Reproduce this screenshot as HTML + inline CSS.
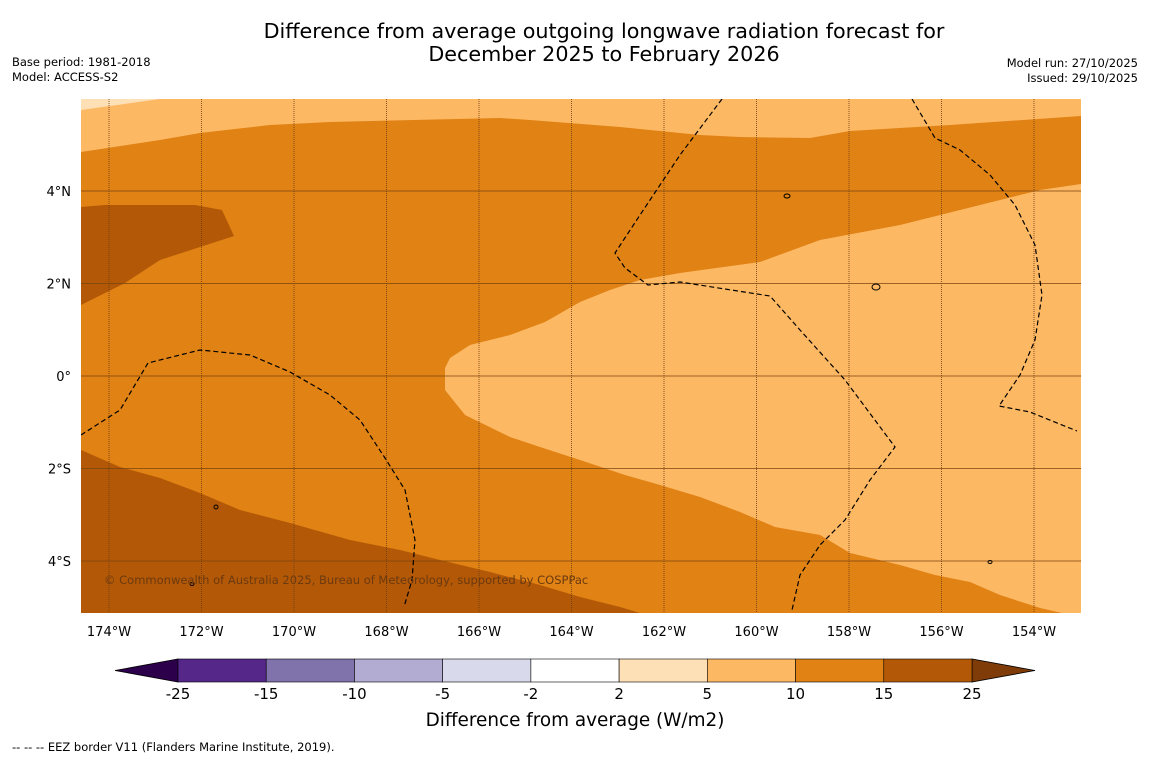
<!DOCTYPE html>
<html><head><meta charset="utf-8">
<style>
body{margin:0;background:#fff;width:1150px;height:758px;overflow:hidden;font-family:"Liberation Sans","DejaVu Sans",sans-serif;}
svg text{font-family:"DejaVu Sans","Liberation Sans",sans-serif;}
</style></head>
<body>
<svg id="chart" width="1150" height="758">
<text x="604" y="38" text-anchor="middle" font-size="20.7">Difference from average outgoing longwave radiation forecast for</text>
<text x="604" y="61" text-anchor="middle" font-size="20.7">December 2025 to February 2026</text>
<text x="12" y="66" font-size="11.5">Base period: 1981-2018</text>
<text x="12" y="81" font-size="11.5">Model: ACCESS-S2</text>
<text x="1138" y="67" font-size="11.5" text-anchor="end">Model run: 27/10/2025</text>
<text x="1138" y="82" font-size="11.5" text-anchor="end">Issued: 29/10/2025</text>
<defs><clipPath id="mapclip"><rect x="81" y="99" width="1000" height="514"/></clipPath></defs>
<g id="map" clip-path="url(#mapclip)"></g>
<g id="axes"></g>
<g id="cbar"></g>
<text x="575" y="726" text-anchor="middle" font-size="18.4">Difference from average (W/m2)</text>
<text x="12" y="751" font-size="11.5">--  --  -- EEZ border V11 (Flanders Marine Institute, 2019).</text>
</svg>
<script>
const NS="http://www.w3.org/2000/svg";
const X0=109, LON0=-174, Y0=376, PX=46.25;
function xs(lon){return X0+(lon-LON0)*PX;}
function ys(lat){return Y0-lat*PX;}
const lonTicks=[-174,-172,-170,-168,-166,-164,-162,-160,-158,-156,-154];
const latTicks=[4,2,0,-2,-4];
const lonLabels=["174°W","172°W","170°W","168°W","166°W","164°W","162°W","160°W","158°W","156°W","154°W"];
const latLabels=["4°N","2°N","0°","2°S","4°S"];
const cbLevels=["-25","-15","-10","-5","-2","2","5","10","15","25"];
const cbColors=["#542788","#8073ac","#b2abd2","#d8daeb","#ffffff","#fee0b6","#fdb863","#e08214","#b35806"];
function P(pts){return pts.map(p=>[LON0+(p[0]-X0)/PX,(Y0-p[1])/PX]);}
const regionMid=P([[81,99],[1081,99],[1081,613],[81,613]]);
const regionLightTop=P([[81,99],[1081,99],[1081,116],[950,125],[850,131],[810,138],[740,137],[700,135],[620,127],[530,120],[500,118],[330,122],[270,125],[200,133],[160,140],[81,152]]);
const regionLightEast=P([[1081,184],[1040,190],[980,205],[900,225],[820,240],[760,262],[680,273],[640,280],[610,290],[580,302],[545,322],[510,335],[470,345],[450,358],[445,368],[445,390],[465,415],[510,437],[540,447],[580,460],[625,475],[660,485],[700,497],[740,512],[775,527],[820,535],[850,553],[900,565],[935,575],[970,582],[1000,595],[1040,608],[1062,613],[1081,613]]);
const regionLightest=P([[81,99],[160,99],[81,110]]);
const regionDarkNW=P([[81,207],[105,205],[195,205],[222,210],[234,236],[200,247],[160,260],[125,283],[81,305]]);
const regionDarkS=P([[81,450],[120,467],[160,478],[200,493],[240,510],[290,523],[350,540],[400,550],[440,560],[490,572],[540,585],[580,597],[620,607],[640,613],[81,613]]);
const eez1=P([[81,435],[120,410],[148,363],[200,350],[250,355],[290,372],[330,395],[360,420],[385,458],[405,490],[415,540],[412,580],[404,607]]);
const eez2=P([[722,99],[680,155],[640,215],[615,253],[625,268],[648,285],[680,282],[770,296],[800,330],[845,380],[895,447],[870,480],[845,520],[820,545],[800,575],[792,610]]);
const eez3=P([[912,99],[935,138],[960,150],[990,175],[1015,205],[1035,245],[1042,295],[1035,340],[1020,375],[999,406],[1030,412],[1077,431]]);
function pts(a){return a.map(p=>xs(p[0]).toFixed(1)+","+ys(p[1]).toFixed(1)).join(" ");}
const map=document.getElementById("map");
function poly(a,fill,name){const e=document.createElementNS(NS,"polygon");e.setAttribute("points",pts(a));e.setAttribute("fill",fill);


map.appendChild(e);}
poly(regionMid,"#e08214","region-10-15");
poly(regionLightTop,"#fdb863","region-5-10-north");
poly(regionLightEast,"#fdb863","region-5-10-east");
poly(regionLightest,"#fee0b6","region-2-5");
poly(regionDarkNW,"#b35806","region-15-25-northwest");
poly(regionDarkS,"#b35806","region-15-25-south");
lonTicks.forEach((l,i)=>{const e=document.createElementNS(NS,"line");e.setAttribute("x1",xs(l));e.setAttribute("x2",xs(l));e.setAttribute("y1",99);e.setAttribute("y2",613);e.setAttribute("stroke","#6b3a10");e.setAttribute("stroke-width","0.8");e.setAttribute("stroke-dasharray","1,1");


map.appendChild(e);});
latTicks.forEach(l=>{const e=document.createElementNS(NS,"line");e.setAttribute("x1",81);e.setAttribute("x2",1081);e.setAttribute("y1",ys(l));e.setAttribute("y2",ys(l));e.setAttribute("stroke","#7a4510");e.setAttribute("stroke-width","0.7");


map.appendChild(e);});
[eez1,eez2,eez3].forEach(a=>{const e=document.createElementNS(NS,"polyline");e.setAttribute("points",pts(a));e.setAttribute("fill","none");e.setAttribute("stroke","#000");e.setAttribute("stroke-width","1.2");e.setAttribute("stroke-dasharray","5,3");


map.appendChild(e);});
[[787,196,3,2],[876,287,4,3],[216,507,2,2],[192,584,2,1.5],[990,562,2,1.5]].forEach(d=>{const e=document.createElementNS(NS,"ellipse");e.setAttribute("cx",d[0]);e.setAttribute("cy",d[1]);e.setAttribute("rx",d[2]);e.setAttribute("ry",d[3]);e.setAttribute("fill","none");e.setAttribute("stroke","#000");e.setAttribute("stroke-width","1");


map.appendChild(e);});
const cp=document.createElementNS(NS,"text");cp.setAttribute("x",104);cp.setAttribute("y",584);cp.setAttribute("font-size","11.5");cp.setAttribute("fill","#6b3a10");cp.textContent="© Commonwealth of Australia 2025, Bureau of Meteorology, supported by COSPPac";


map.appendChild(cp);
const ax=document.getElementById("axes");
lonTicks.forEach((l,i)=>{const t=document.createElementNS(NS,"text");t.setAttribute("x",xs(l));t.setAttribute("y",636);t.setAttribute("text-anchor","middle");t.setAttribute("font-size","13");t.textContent=lonLabels[i];


ax.appendChild(t);});
latTicks.forEach((l,i)=>{const t=document.createElementNS(NS,"text");t.setAttribute("x",71);t.setAttribute("y",ys(l)+5);t.setAttribute("text-anchor","end");t.setAttribute("font-size","13");t.textContent=latLabels[i];


ax.appendChild(t);});
const cb=document.getElementById("cbar");
const cx0=178,cx1=972,cy=659,ch=23,cw=(cx1-cx0)/cbColors.length;
const lt=document.createElementNS(NS,"polygon");lt.setAttribute("points",`115,${cy+ch/2} ${cx0},${cy} ${cx0},${cy+ch}`);lt.setAttribute("fill","#2d004b");lt.setAttribute("stroke","#000");lt.setAttribute("stroke-width","0.8");


cb.appendChild(lt);
const rt=document.createElementNS(NS,"polygon");rt.setAttribute("points",`1035,${cy+ch/2} ${cx1},${cy} ${cx1},${cy+ch}`);rt.setAttribute("fill","#7f3b08");rt.setAttribute("stroke","#000");rt.setAttribute("stroke-width","0.8");


cb.appendChild(rt);
cbColors.forEach((c,i)=>{const r=document.createElementNS(NS,"rect");r.setAttribute("x",cx0+i*cw);r.setAttribute("y",cy);r.setAttribute("width",cw);r.setAttribute("height",ch);r.setAttribute("fill",c);r.setAttribute("stroke","#000");r.setAttribute("stroke-width","0.6");


cb.appendChild(r);});
cbLevels.forEach((v,i)=>{const t=document.createElementNS(NS,"text");t.setAttribute("x",cx0+i*cw);t.setAttribute("y",699);t.setAttribute("text-anchor","middle");t.setAttribute("font-size","15");t.textContent=v;


cb.appendChild(t);});
</script>
</body></html>
